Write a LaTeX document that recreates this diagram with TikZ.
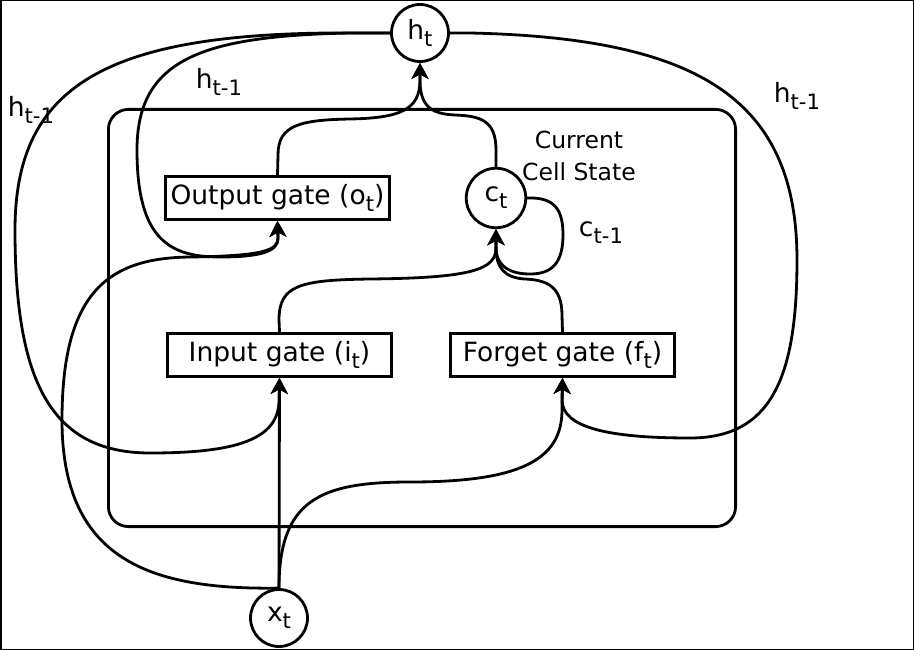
\documentclass[tikz,border=0pt]{standalone}
\usepackage{fontspec}
\setmainfont{DejaVu Sans}
\usetikzlibrary{arrows.meta}
\newcommand{\lo}[1]{\raisebox{-0.27em}{\scalebox{0.8}{#1}}}
\begin{document}
\begin{tikzpicture}[x=1pt,y=-1pt,line width=2.8pt,
  every node/.style={font=\fontsize{26.5}{30}\selectfont,inner sep=0pt},
  circ/.style={draw,circle},
  gate/.style={draw,rectangle,minimum width=224pt,minimum height=43pt},
  conn/.style={-{Stealth[length=16pt,width=17pt,inset=4.5pt]},line join=round},
  frame/.style={line width=1.5pt},
  cell/.style={rounded corners=20pt}
]
\useasboundingbox (0,0) rectangle (914,650);
\draw[frame] (0.75,0.75) rectangle (913.25,649.25);
\draw[cell] (108.4,109.4) rectangle (735.6,526.6);

% nodes
\node[circ,minimum size=57pt] (ht) at (420,33) {h\lo{t}};
\node[circ,minimum size=59.5pt] (ct) at (496,198) {c\lo{t}};
\node[circ,minimum size=57pt] (xt) at (279,618) {x\lo{t}};
\node[gate] (og) at (277.5,198) {Output gate (o\lo{t})};
\node[gate] (ig) at (279.5,355) {Input gate (i\lo{t})};
\node[gate] (fg) at (562.5,355) {Forget gate (f\lo{t})};

% labels
\node (l1) at (31,110) {h\lo{t-1}};
\node (l2) at (219,82) {h\lo{t-1}};
\node (l3) at (797,96) {h\lo{t-1}};
\node (l4) at (601,233) {c\lo{t-1}};
\node[font=\fontsize{23.5}{32}\selectfont,align=center] (cs) at (579,156) {Current\\Cell State};

% connectors to h_t
\draw[conn] (og.north) -- (278,155) .. controls (278,125) and (300,120) .. (350,119)
  .. controls (400,118) and (420,110) .. (420,80) -- (ht.south);
\draw[conn] (ct.north) -- (496,150) .. controls (496,120) and (480,116) .. (455,115)
  .. controls (430,114) and (420,105) .. (420,80) -- (ht.south);

% h_{t-1} loops
\draw[conn] (ht.west) -- (350,33) .. controls (200,36) and (137,60) .. (137,150)
  .. controls (137,240) and (170,257) .. (220,257)
  .. controls (265,257) and (278,250) .. (278,238) -- (og.south);
\draw[conn] (ht.west) -- (330,33) .. controls (100,35) and (15,90) .. (15,230)
  .. controls (15,380) and (50,453) .. (150,453)
  .. controls (235,453) and (279,440) .. (279,400) -- (ig.south);
\draw[conn] (ht.east) -- (470,33) .. controls (700,38) and (797,100) .. (797,260)
  .. controls (797,380) and (770,438) .. (690,438)
  .. controls (610,438) and (562,428) .. (562,400) -- (fg.south);

% x_t inputs
\draw[conn] (xt.north) -- (ig.south);
\draw[conn] (xt.north) .. controls (279,500) and (320,482) .. (410,482)
  .. controls (520,482) and (562,460) .. (562,410) -- (fg.south);
\draw[conn] (xt.north) .. controls (150,590) and (62,560) .. (62,420)
  .. controls (62,290) and (110,258) .. (190,257)
  .. controls (265,256) and (278,250) .. (278,238) -- (og.south);

% into c_t
\draw[conn] (ig.north) -- (279,320) .. controls (279,285) and (300,280) .. (370,279)
  .. controls (470,278) and (496,270) .. (496,248) -- (ct.south);
\draw[conn] (fg.north) -- (562,315) .. controls (562,285) and (545,280) .. (525,279)
  .. controls (505,278) and (496,268) .. (496,248) -- (ct.south);
\draw[conn] (ct.east) .. controls (555,197) and (563,210) .. (563,235)
  .. controls (563,265) and (550,274) .. (530,274)
  .. controls (505,274) and (496,262) .. (496,248) -- (ct.south);
\end{tikzpicture}
\end{document}
